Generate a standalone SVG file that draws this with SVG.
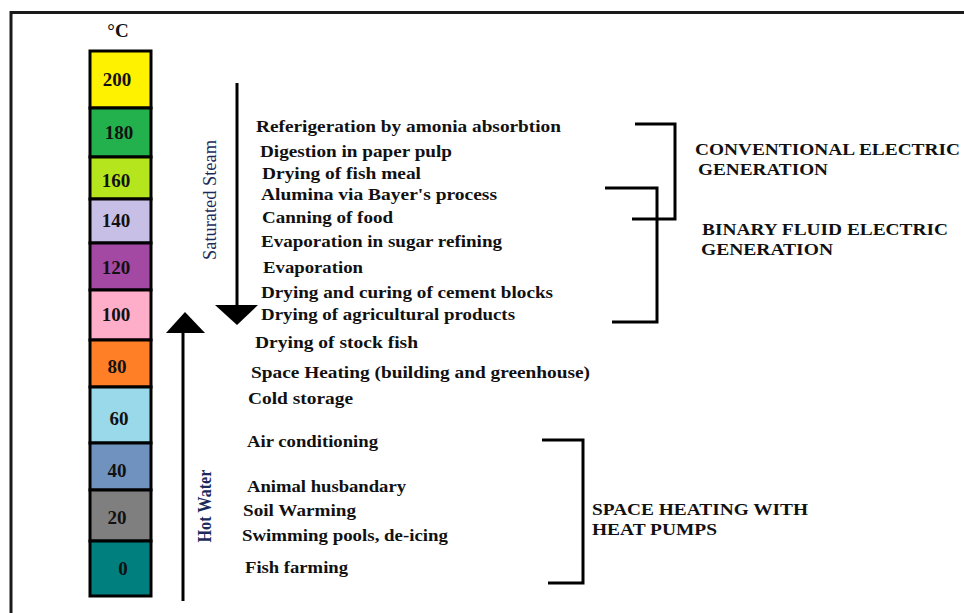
<svg xmlns="http://www.w3.org/2000/svg" width="964" height="613" viewBox="0 0 964 613">
<style>
.t{font-family:"Liberation Serif","Times New Roman",serif;font-weight:bold;font-size:17px;fill:#111;}
.n{font-family:"Liberation Serif","Times New Roman",serif;font-weight:bold;font-size:19px;fill:#111;text-anchor:middle;}
.v{font-family:"Liberation Serif","Times New Roman",serif;font-size:19px;fill:#1a2a5a;text-anchor:middle;}
.seg{stroke:#000;stroke-width:3;}
.ln{stroke:#000;stroke-width:3;fill:none;}
.ah{fill:#000;}
</style>
<rect x="0" y="0" width="964" height="613" fill="#fff"/>
<g id="frame"><path d="M11,613 V12.5 H964" stroke="#1a1a1a" stroke-width="3" fill="none"/></g>
<g id="unit"><text class="n" x="118" y="37" font-size="18">°C</text></g>
<g id="scale">
<g id="s200"><rect class="seg" x="90" y="51" width="61" height="57" fill="#fff200"/><text class="n" x="117" y="86">200</text></g>
<g id="s180"><rect class="seg" x="90" y="108" width="61" height="49" fill="#22b14c"/><text class="n" x="119" y="139">180</text></g>
<g id="s160"><rect class="seg" x="90" y="157" width="61" height="42" fill="#b5e61d"/><text class="n" x="116" y="187">160</text></g>
<g id="s140"><rect class="seg" x="90" y="199" width="61" height="44" fill="#c8bfe7"/><text class="n" x="116" y="227">140</text></g>
<g id="s120"><rect class="seg" x="90" y="243" width="61" height="47" fill="#a349a4"/><text class="n" x="116" y="274">120</text></g>
<g id="s100"><rect class="seg" x="90" y="290" width="61" height="50" fill="#ffaec9"/><text class="n" x="116" y="321">100</text></g>
<g id="s80"><rect class="seg" x="90" y="340" width="61" height="47" fill="#ff7f27"/><text class="n" x="117" y="373">80</text></g>
<g id="s60"><rect class="seg" x="90" y="387" width="61" height="56" fill="#99d9ea"/><text class="n" x="119" y="425">60</text></g>
<g id="s40"><rect class="seg" x="90" y="443" width="61" height="47" fill="#7092be"/><text class="n" x="117" y="477">40</text></g>
<g id="s20"><rect class="seg" x="90" y="490" width="61" height="51" fill="#7f7f7f"/><text class="n" x="117" y="524">20</text></g>
<g id="s0"><rect class="seg" x="90" y="541" width="61" height="55" fill="#007f7f"/><text class="n" x="123" y="575">0</text></g>
</g>
<g id="connectors">
<line class="ln" x1="237" y1="83" x2="237" y2="306"/>
<polygon class="ah" points="215,305 258,305 237,325"/>
<line class="ln" x1="183" y1="331" x2="183" y2="601"/>
<polygon class="ah" points="166,333 205,333 185,312"/>
<path class="ln" d="M635,124 H675 V219 H632"/>
<path class="ln" d="M605,188 H657 V322 H612"/>
<path class="ln" d="M542,440 H583 V583 H548"/>
</g>
<g id="steam-label"><text class="v" transform="translate(216,200) rotate(-90)" textLength="120" lengthAdjust="spacingAndGlyphs">Saturated Steam</text></g>
<g id="water-label"><text class="v" font-weight="bold" transform="translate(211,506) rotate(-90)" textLength="73" lengthAdjust="spacingAndGlyphs">Hot Water</text></g>
<g id="uses-steam">
<text class="t" x="256" y="132" textLength="305" lengthAdjust="spacingAndGlyphs">Referigeration by amonia absorbtion</text>
<text class="t" x="260" y="157" textLength="192" lengthAdjust="spacingAndGlyphs">Digestion in paper pulp</text>
<text class="t" x="262" y="179" textLength="159" lengthAdjust="spacingAndGlyphs">Drying of fish meal</text>
<text class="t" x="261" y="200" textLength="236" lengthAdjust="spacingAndGlyphs">Alumina via Bayer's process</text>
<text class="t" x="262" y="223" textLength="131" lengthAdjust="spacingAndGlyphs">Canning of food</text>
<text class="t" x="261" y="247" textLength="241" lengthAdjust="spacingAndGlyphs">Evaporation in sugar refining</text>
<text class="t" x="263" y="273" textLength="100" lengthAdjust="spacingAndGlyphs">Evaporation</text>
<text class="t" x="261" y="298" textLength="292" lengthAdjust="spacingAndGlyphs">Drying and curing of cement blocks</text>
<text class="t" x="261" y="320" textLength="254" lengthAdjust="spacingAndGlyphs">Drying of agricultural products</text>
</g>
<g id="uses-water">
<text class="t" x="255" y="348" textLength="163" lengthAdjust="spacingAndGlyphs">Drying of stock fish</text>
<text class="t" x="251" y="378" textLength="339" lengthAdjust="spacingAndGlyphs">Space Heating (building and greenhouse)</text>
<text class="t" x="248" y="404" textLength="105" lengthAdjust="spacingAndGlyphs">Cold storage</text>
<text class="t" x="247" y="447" textLength="131" lengthAdjust="spacingAndGlyphs">Air conditioning</text>
<text class="t" x="247" y="492" textLength="159" lengthAdjust="spacingAndGlyphs">Animal husbandary</text>
<text class="t" x="243" y="516" textLength="113" lengthAdjust="spacingAndGlyphs">Soil Warming</text>
<text class="t" x="242" y="541" textLength="206" lengthAdjust="spacingAndGlyphs">Swimming pools, de-icing</text>
<text class="t" x="245" y="573" textLength="103" lengthAdjust="spacingAndGlyphs">Fish farming</text>
</g>
<g id="conventional">
<text class="t" x="695" y="155" textLength="265" lengthAdjust="spacingAndGlyphs">CONVENTIONAL ELECTRIC</text>
<text class="t" x="698" y="175" textLength="130" lengthAdjust="spacingAndGlyphs">GENERATION</text>
</g>
<g id="binary">
<text class="t" x="702" y="235" textLength="246" lengthAdjust="spacingAndGlyphs">BINARY FLUID ELECTRIC</text>
<text class="t" x="701" y="255" textLength="132" lengthAdjust="spacingAndGlyphs">GENERATION</text>
</g>
<g id="heatpumps">
<text class="t" x="592" y="515" textLength="216" lengthAdjust="spacingAndGlyphs">SPACE HEATING WITH</text>
<text class="t" x="592" y="535" textLength="125" lengthAdjust="spacingAndGlyphs">HEAT PUMPS</text>
</g>
</svg>
